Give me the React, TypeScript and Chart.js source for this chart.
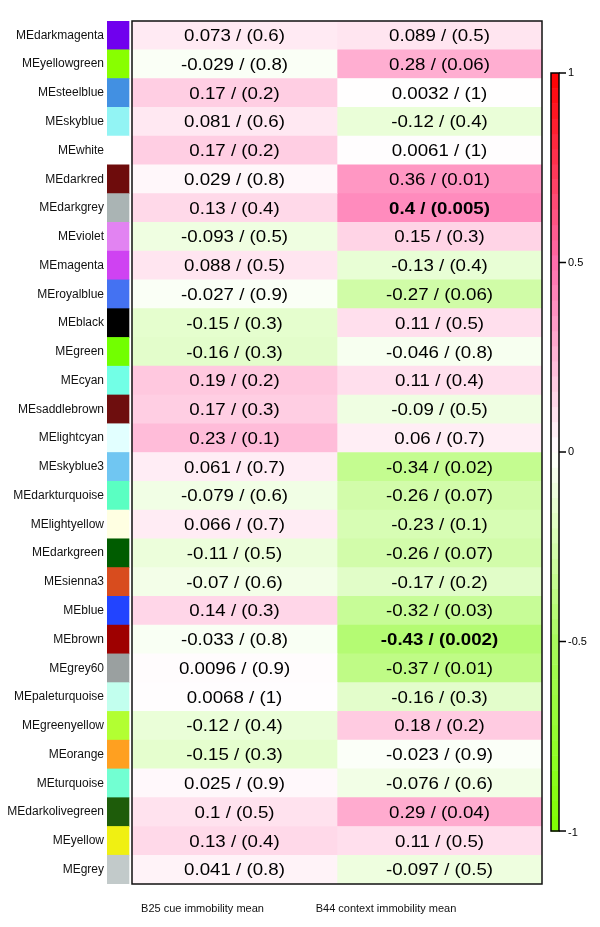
import React, { useEffect, useRef } from "react";
import { Chart, registerables } from "chart.js";

Chart.register(...registerables);

const modules = [
  "MEdarkmagenta", "MEyellowgreen", "MEsteelblue", "MEskyblue", "MEwhite",
  "MEdarkred", "MEdarkgrey", "MEviolet", "MEmagenta", "MEroyalblue",
  "MEblack", "MEgreen", "MEcyan", "MEsaddlebrown", "MElightcyan",
  "MEskyblue3", "MEdarkturquoise", "MElightyellow", "MEdarkgreen", "MEsienna3",
  "MEblue", "MEbrown", "MEgrey60", "MEpaleturquoise", "MEgreenyellow",
  "MEorange", "MEturquoise", "MEdarkolivegreen", "MEyellow", "MEgrey",
];

const swatchColors = [
  "#7000EE", "#88FF00", "#4290E2", "#92F4F4", "#FFFFFF",
  "#6E0C0C", "#AAB4B4", "#E283F2", "#CF42F2", "#4472F2",
  "#000000", "#72FF00", "#72FFE6", "#6E0E0E", "#E2FFFF",
  "#70C6F2", "#5AFFC2", "#FFFFE2", "#005C00", "#D84C1E",
  "#2244FF", "#9E0000", "#9AA0A0", "#C2FFEE", "#B2FF32",
  "#FFA020", "#72FFD2", "#1E5C0A", "#F0F012", "#C2CACA",
];

const b25Cor = [
  0.073, -0.029, 0.17, 0.081, 0.17, 0.029, 0.13, -0.093, 0.088, -0.027,
  -0.15, -0.16, 0.19, 0.17, 0.23, 0.061, -0.079, 0.066, -0.11, -0.07,
  0.14, -0.033, 0.0096, 0.0068, -0.12, -0.15, 0.025, 0.1, 0.13, 0.041,
];
const b25P = [
  0.6, 0.8, 0.2, 0.6, 0.2, 0.8, 0.4, 0.5, 0.5, 0.9,
  0.3, 0.3, 0.2, 0.3, 0.1, 0.7, 0.6, 0.7, 0.5, 0.6,
  0.3, 0.8, 0.9, 1, 0.4, 0.3, 0.9, 0.5, 0.4, 0.8,
];
const b44Cor = [
  0.089, 0.28, 0.0032, -0.12, 0.0061, 0.36, 0.4, 0.15, -0.13, -0.27,
  0.11, -0.046, 0.11, -0.09, 0.06, -0.34, -0.26, -0.23, -0.26, -0.17,
  -0.32, -0.43, -0.37, -0.16, 0.18, -0.023, -0.076, 0.29, 0.11, -0.097,
];
const b44P = [
  0.5, 0.06, 1, 0.4, 1, 0.01, 0.005, 0.3, 0.4, 0.06,
  0.5, 0.8, 0.4, 0.5, 0.7, 0.02, 0.07, 0.1, 0.07, 0.2,
  0.03, 0.002, 0.01, 0.3, 0.2, 0.9, 0.6, 0.04, 0.5, 0.5,
];

const traitLabels = ["B25 cue immobility mean", "B44 context immobility mean"];
const colorbarTicks = [1, 0.5, 0, -0.5, -1];

// layout (x units == pixels from the left of the plot area)
const SWATCH = [0, 22];
const COL1 = [25, 230];
const COL2 = [230, 435];
const LABEL_X = [95.5, 279];

const FONT = "'Liberation Sans', Arial, sans-serif";

function lerp(a: number[], b: number[], t: number) {
  return a.map((v, i) => Math.round(v + (b[i] - v) * t));
}
function corColor(v: number): string {
  const white = [255, 255, 255];
  let c: number[];
  if (v >= 0) {
    const mid = [255, 110, 172];
    const end = [255, 0, 0];
    c = v <= 0.5 ? lerp(white, mid, v / 0.5) : lerp(mid, end, (v - 0.5) / 0.5);
  } else {
    const a = -v;
    const mid = [168, 250, 92];
    const end = [127, 255, 0];
    c = a <= 0.5 ? lerp(white, mid, a / 0.5) : lerp(mid, end, (a - 0.5) / 0.5);
  }
  return `rgb(${c[0]},${c[1]},${c[2]})`;
}

const overlayPlugin = {
  id: "overlay",
  afterDatasetsDraw(chart: any) {
    const ctx = chart.ctx as CanvasRenderingContext2D;
    const xs = chart.scales.x;
    const ys = chart.scales.y;
    const y2 = chart.scales.y2;
    ctx.save();
    // cell texts
    ctx.textAlign = "center";
    ctx.textBaseline = "middle";
    ctx.fillStyle = "#000";
    const cols = [
      { range: COL1, cor: b25Cor, p: b25P },
      { range: COL2, cor: b44Cor, p: b44P },
    ];
    cols.forEach((col) => {
      const cx = xs.getPixelForValue((col.range[0] + col.range[1]) / 2);
      modules.forEach((_, i) => {
        const cy = ys.getPixelForValue(i);
        const bold = col.p[i] < 0.01;
        ctx.save();
        ctx.translate(cx, cy + 1);
        ctx.scale(1.1, 1);
        ctx.font = `${bold ? "bold " : ""}17px ${FONT}`;
        ctx.fillText(`${col.cor[i]} / (${col.p[i]})`, 0, 0);
        ctx.restore();
      });
    });
    // heatmap box
    const left = xs.getPixelForValue(COL1[0]);
    const right = xs.getPixelForValue(COL2[1]);
    ctx.strokeStyle = "#111";
    ctx.lineWidth = 1.5;
    ctx.strokeRect(left, chart.chartArea.top, right - left, chart.chartArea.bottom - chart.chartArea.top);

    // colour bar
    const bx = chart.chartArea.right + 9;
    const bw = 8;
    const steps = 50;
    for (let k = 0; k < steps; k++) {
      const v0 = -1 + (2 * k) / steps;
      const v1 = -1 + (2 * (k + 1)) / steps;
      const p0 = y2.getPixelForValue(v0);
      const p1 = y2.getPixelForValue(v1);
      ctx.fillStyle = corColor((v0 + v1) / 2);
      ctx.fillRect(bx, p1, bw, p0 - p1 + 0.5);
    }
    const top = y2.getPixelForValue(1);
    const bot = y2.getPixelForValue(-1);
    ctx.strokeStyle = "#000";
    ctx.lineWidth = 1.5;
    ctx.strokeRect(bx, top, bw, bot - top);
    ctx.font = `11px ${FONT}`;
    ctx.textAlign = "left";
    ctx.textBaseline = "middle";
    ctx.fillStyle = "#000";
    colorbarTicks.forEach((t) => {
      const py = y2.getPixelForValue(t);
      ctx.beginPath();
      ctx.moveTo(bx + bw, py);
      ctx.lineTo(bx + bw + 7, py);
      ctx.stroke();
      ctx.fillText(String(t), bx + bw + 9, py + (t === -1 ? 2 : 0));
    });
    ctx.restore();
  },
};

export default function App() {
  const ref = useRef<HTMLCanvasElement | null>(null);
  useEffect(() => {
    if (!ref.current) return;
    const chart = new Chart(ref.current, {
      type: "bar",
      data: {
        labels: modules,
        datasets: [
          {
            label: "module",
            data: modules.map(() => SWATCH as any),
            backgroundColor: swatchColors,
            borderWidth: 0,
          },
          {
            label: traitLabels[0],
            data: modules.map(() => COL1 as any),
            backgroundColor: b25Cor.map(corColor),
            borderWidth: 0,
          },
          {
            label: traitLabels[1],
            data: modules.map(() => COL2 as any),
            backgroundColor: b44Cor.map(corColor),
            borderWidth: 0,
          },
        ],
      },
      options: {
        indexAxis: "y",
        responsive: false,
        animation: false,
        devicePixelRatio: 1,
        layout: { padding: { top: 21, right: 58, bottom: 0, left: 0 } },
        datasets: { bar: { grouped: false, barPercentage: 1, categoryPercentage: 1 } } as any,
        plugins: { legend: { display: false }, tooltip: { enabled: false } },
        scales: {
          x: {
            type: "linear",
            min: 0,
            max: COL2[1],
            grid: { display: false, drawTicks: false },
            border: { display: false },
            afterBuildTicks: (scale: any) => {
              scale.ticks = LABEL_X.map((v) => ({ value: v }));
            },
            afterFit: (scale: any) => {
              scale.height = 43;
            },
            ticks: {
              autoSkip: false,
              maxRotation: 0,
              padding: 18,
              color: "#111",
              font: { family: FONT, size: 11 },
              callback: (_v: any, i: number) => traitLabels[i],
            },
          },
          y: {
            type: "category",
            grid: { display: false, drawTicks: false },
            border: { display: false },
            afterFit: (scale: any) => {
              scale.width = 107;
            },
            ticks: {
              autoSkip: false,
              padding: 3,
              color: "#111",
              font: { family: FONT, size: 12 },
            },
          },
          y2: {
            type: "linear",
            axis: "y",
            display: false,
            offset: false,
            grace: 0,
            min: -1.1398,
            max: 1.1372,
          },
        },
      },
      plugins: [overlayPlugin],
    });
    return () => chart.destroy();
  }, []);
  return (
    <div style={{ position: "absolute", left: 0, top: 0, width: 600, height: 927, background: "#fff" }}>
      <canvas ref={ref} width={600} height={927} />
    </div>
  );
}
